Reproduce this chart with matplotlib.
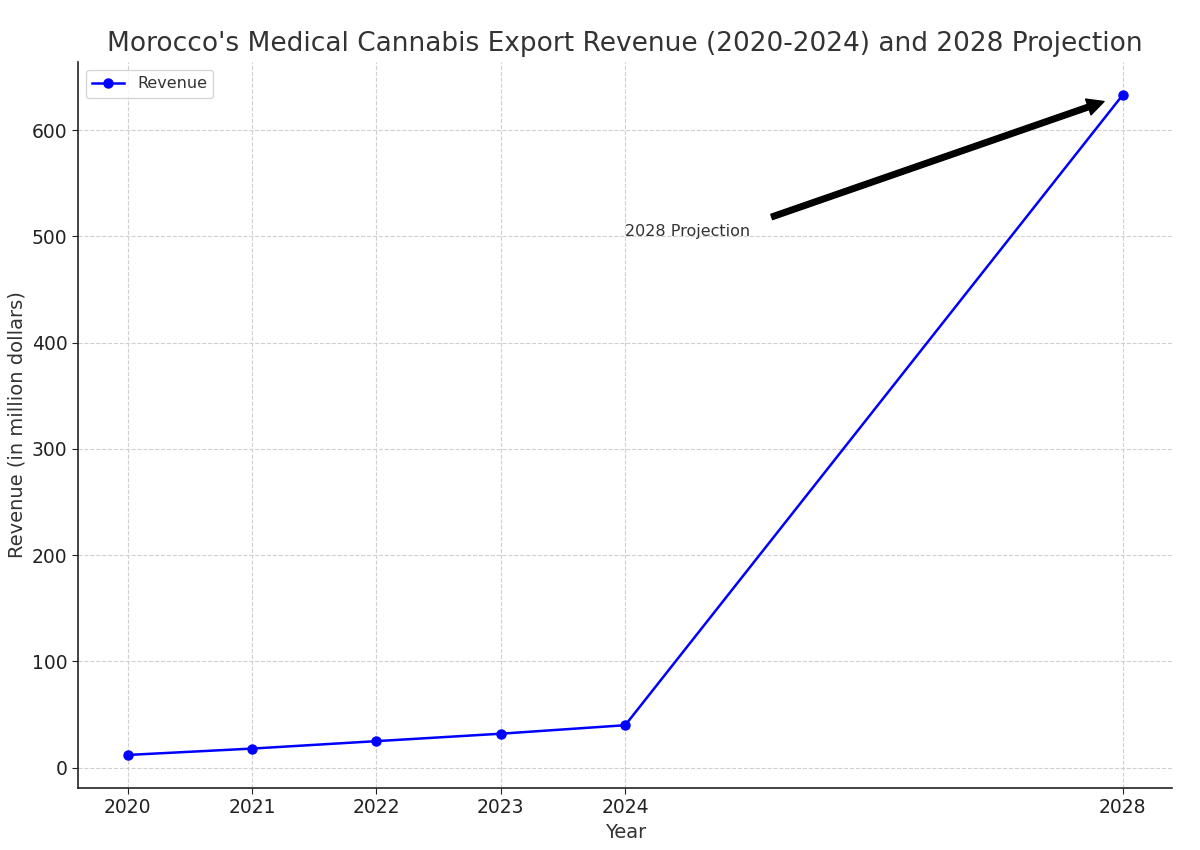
import matplotlib
matplotlib.use("Agg")
import matplotlib.pyplot as plt

years = [2020, 2021, 2022, 2023, 2024, 2028]
revenue = [12, 18, 25, 32, 40, 633]

plt.rcParams['font.family'] = ['DejaVu Sans']
plt.rcParams['text.color'] = '#333333'
plt.rcParams['axes.labelcolor'] = '#333333'
plt.rcParams['xtick.color'] = '#222222'
plt.rcParams['ytick.color'] = '#222222'


def plot():
    fig, ax = plt.subplots(figsize=(12, 8.5), dpi=100)
    ax.plot(years, revenue, marker='o', color='blue', lw=1.8, ms=6.5, label='Revenue')

    ax.annotate('2028 Projection', xy=(years[-1], revenue[-1]), xytext=(2024, 500),
                fontsize=11.5, color='#333333',
                arrowprops=dict(facecolor='black', shrink=0.05))

    ax.set_title("Morocco's Medical Cannabis Export Revenue (2020-2024) and 2028 Projection",
                 fontsize=19, color='#333333', pad=8)
    ax.set_xlabel('Year', fontsize=14)
    ax.set_ylabel('Revenue (in million dollars)', fontsize=14)
    ax.set_xticks(years)
    ax.tick_params(labelsize=13.5, length=4, width=0.8)
    ax.grid(True, linestyle='--', color='#d0d0d0', lw=0.8)
    ax.spines['top'].set_visible(False)
    ax.spines['right'].set_visible(False)
    for s in ('left', 'bottom'):
        ax.spines[s].set_color('#222222')
        ax.spines[s].set_linewidth(1.2)
    ax.legend(loc='upper left', fontsize=11.5)

    fig.subplots_adjust(left=0.065, right=0.977, top=0.927, bottom=0.073)
    fig.savefig('out.png')


if __name__ == '__main__':
    plot()
